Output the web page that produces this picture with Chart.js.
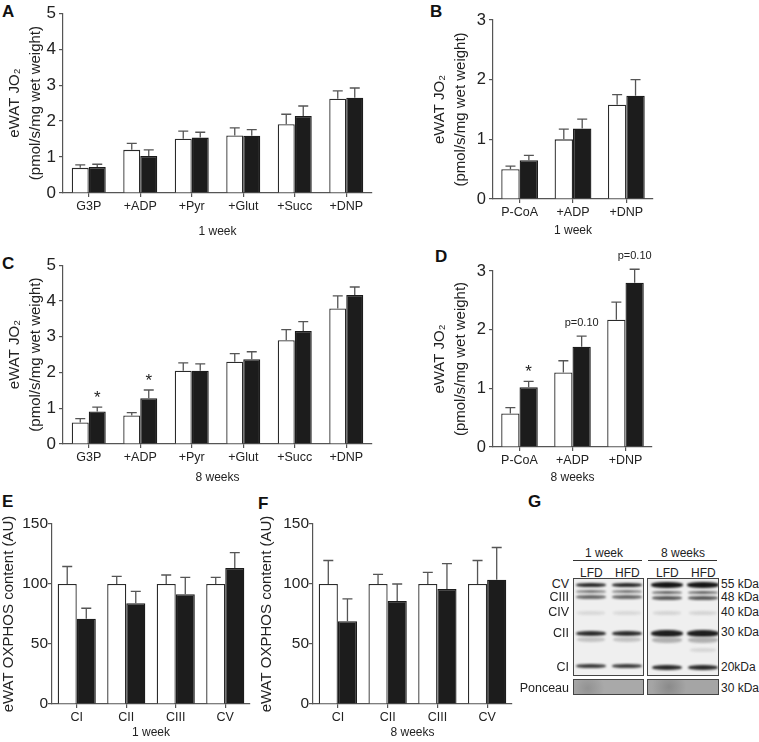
<!DOCTYPE html>
<html><head><meta charset="utf-8">
<script src="https://cdn.jsdelivr.net/npm/chart.js@4.4.1/dist/chart.umd.min.js"></script>
<style>
html,body{margin:0;padding:0;background:#fff;}
body{width:759px;height:742px;position:relative;overflow:hidden;font-family:'Liberation Sans',Arial,sans-serif;color:#222;}
.pn{position:absolute;}
.lt{position:absolute;font-weight:bold;font-size:17px;line-height:1;color:#111;}
.tx{position:absolute;font-size:12px;line-height:1;white-space:nowrap;}
.ul{position:absolute;height:1px;background:#333;}
.blot{position:absolute;border:1px solid #444;background:#efefef;overflow:hidden;box-sizing:border-box;}
.band{position:absolute;border-radius:45%;filter:blur(1px);}
</style>
</head><body>

<div class="lt" style="left:2px;top:3px">A</div>
<div class="lt" style="left:430px;top:3px">B</div>
<div class="lt" style="left:2px;top:255px">C</div>
<div class="lt" style="left:435px;top:248px">D</div>
<div class="lt" style="left:2px;top:493px">E</div>
<div class="lt" style="left:258px;top:495px">F</div>
<div class="lt" style="left:528px;top:493px">G</div>

<div class="pn" style="left:0;top:0;width:380px;height:245px"><canvas id="cA"></canvas></div>
<div class="pn" style="left:420px;top:0;width:250px;height:245px"><canvas id="cB"></canvas></div>
<div class="pn" style="left:0;top:252px;width:380px;height:238px"><canvas id="cC"></canvas></div>
<div class="pn" style="left:420px;top:250px;width:250px;height:240px"><canvas id="cD"></canvas></div>
<div class="pn" style="left:0;top:485px;width:255px;height:257px"><canvas id="cE"></canvas></div>
<div class="pn" style="left:255px;top:485px;width:262px;height:257px"><canvas id="cF"></canvas></div>

<!-- G: western blot -->
<div class="tx" style="left:585px;top:547px">1 week</div>
<div class="ul" style="left:573px;top:560px;width:69px"></div>
<div class="tx" style="left:661px;top:547px">8 weeks</div>
<div class="ul" style="left:648px;top:560px;width:69px"></div>
<div class="tx" style="left:580px;top:567px">LFD</div>
<div class="tx" style="left:615px;top:567px">HFD</div>
<div class="tx" style="left:656px;top:567px">LFD</div>
<div class="tx" style="left:691px;top:567px">HFD</div>
<div id="blot1" class="blot" style="left:573px;top:578px;width:71px;height:98px"></div>
<div id="blot2" class="blot" style="left:647px;top:578px;width:72px;height:98px"></div>
<div class="blot" style="left:573px;top:679px;width:71px;height:16px;background:radial-gradient(circle at 20% 60%,#929292 0,#a9a9a9 30%),#ababab"></div>
<div class="blot" style="left:647px;top:679px;width:72px;height:16px;background:radial-gradient(circle at 30% 50%,#8a8a8a 0,#a5a5a5 35%),#a8a8a8"></div>
<div id="gl"></div>

<script>
// ── データ ─────────────────────────────────────────
const catsAC=['G3P','+ADP','+Pyr','+Glut','+Succ','+DNP'];
const catsBD=['P-CoA','+ADP','+DNP'];
const catsEF=['CI','CII','CIII','CV'];

// A: 1 week
const aLfd=[0.70,1.20,1.51,1.60,1.91,2.62];
const aLfdErr=[0.08,0.18,0.21,0.21,0.28,0.22];
const aHfd=[0.72,1.03,1.54,1.59,2.14,2.65];
const aHfdErr=[0.08,0.17,0.15,0.17,0.28,0.27];
// C: 8 weeks
const cLfd=[0.60,0.80,2.05,2.30,2.90,3.79];
const cLfdErr=[0.11,0.08,0.22,0.23,0.30,0.35];
const cHfd=[0.91,1.28,2.05,2.37,3.16,4.17];
const cHfdErr=[0.12,0.23,0.19,0.21,0.26,0.22];
// B: 1 week
const bLfd=[0.50,1.00,1.58];
const bLfdErr=[0.05,0.17,0.17];
const bHfd=[0.65,1.18,1.73];
const bHfdErr=[0.08,0.16,0.27];
// D: 8 weeks
const dLfd=[0.57,1.27,2.17];
const dLfdErr=[0.10,0.20,0.30];
const dHfd=[1.02,1.71,2.80];
const dHfdErr=[0.10,0.18,0.23];
// E: OXPHOS 1 week
const eLfd=[100,100,100,100];
const eLfdErr=[14.6,6.4,7.5,5.5];
const eHfd=[71,84,91.4,113.3];
const eHfdErr=[8.8,9.9,14.1,12.9];
// F: OXPHOS 8 weeks
const fLfd=[100,100,100,100];
const fLfdErr=[19.6,8,9.7,19.6];
const fHfd=[69,85.9,95.9,103.6];
const fHfdErr=[18.6,14.1,21,26.8];
// 有意差表記 [dataset, index, text]
const cNotes=[[1,0,'*'],[1,1,'*']];
const dNotes=[[1,0,'*'],[1,1,'p=0.10'],[1,2,'p=0.10']];

const yTitleJO=['eWAT JO\u2082','(pmol/s/mg wet weight)'];
const yTitleOx='eWAT OXPHOS content (AU)';

Chart.defaults.font.family="'Liberation Sans', Arial, sans-serif";
Chart.defaults.color='#222';

// ── エラーバー & 注記 ─────────────────────────────
const errPlugin={id:'errbars',afterDatasetsDraw(chart,args,opts){
  const {ctx,scales:{y}}=chart;
  ctx.save();
  ctx.strokeStyle='#555';ctx.lineWidth=1.3;
  chart.data.datasets.forEach((ds,di)=>{
    chart.getDatasetMeta(di).data.forEach((bar,i)=>{
      const top=y.getPixelForValue(ds.data[i]+ds.err[i]);
      ctx.beginPath();
      ctx.moveTo(bar.x,bar.y);ctx.lineTo(bar.x,top);
      ctx.moveTo(bar.x-5,top);ctx.lineTo(bar.x+5,top);
      ctx.stroke();
    });
  });
  ctx.fillStyle='#222';ctx.textAlign='center';
  (opts.notes||[]).forEach(([di,i,t])=>{
    const ds=chart.data.datasets[di], bar=chart.getDatasetMeta(di).data[i];
    const top=y.getPixelForValue(ds.data[i]+ds.err[i]);
    if(t==='*'){ctx.font="17px 'Liberation Sans', Arial";ctx.textBaseline='alphabetic';ctx.fillText(t,bar.x,top-4);}
    else{ctx.font="11px 'Liberation Sans', Arial";ctx.textBaseline='middle';ctx.fillText(t,bar.x,top-13);}
  });
  ctx.restore();
}};

function mk(id,cats,lfd,lfdE,hfd,hfdE,o){
  const ax={color:'#555',width:1.2};
  const gr={display:true,drawOnChartArea:false,tickLength:4,color:'#555',lineWidth:1.2};
  return new Chart(document.getElementById(id),{
    type:'bar',
    data:{labels:cats,datasets:[
      {label:'LFD',data:lfd,err:lfdE,backgroundColor:'#fff',borderColor:'#2a2a2a',borderWidth:1.3,categoryPercentage:o.cp,barPercentage:1},
      {label:'HFD',data:hfd,err:hfdE,backgroundColor:'#1c1c1c',borderColor:'#1c1c1c',borderWidth:1.3,categoryPercentage:o.cp,barPercentage:1}]},
    options:{responsive:true,maintainAspectRatio:false,animation:false,devicePixelRatio:1,
      layout:{padding:{top:o.pt,right:o.pr,left:0,bottom:0}},
      plugins:{legend:{display:false},tooltip:{enabled:false},errbars:{notes:o.notes||[]}},
      scales:{
        x:{grid:Object.assign({offset:false},gr),border:ax,
          ticks:{font:{size:12.5},padding:2,maxRotation:0,autoSkip:false},
          title:{display:true,text:o.xt,font:{size:12},padding:{top:0,bottom:o.xtp}},
          afterFit:s=>{s.height=o.xh;}},
        y:{min:0,max:o.max,grid:gr,border:ax,
          ticks:{stepSize:o.step,font:{size:o.yfs},padding:o.ytk},
          title:{display:true,text:o.yt,font:{size:15,lineHeight:o.ylh},padding:{top:o.ytp,bottom:0}},
          afterFit:s=>{s.width=o.yw;}}
      }},
    plugins:[errPlugin]
  });
}

const charts={};
charts.A=mk('cA',catsAC,aLfd,aLfdErr,aHfd,aHfdErr,{cp:0.66,pt:13,pr:8,yw:63,xh:52,xt:'1 week',xtp:6,max:5,step:1,yfs:17,ytk:3,yt:yTitleJO,ylh:1.4,ytp:4.5});
charts.C=mk('cC',catsAC,cLfd,cLfdErr,cHfd,cHfdErr,{cp:0.66,pt:13,pr:8,yw:63,xh:46,xt:'8 weeks',xtp:5,max:5,step:1,yfs:17,ytk:3,yt:yTitleJO,ylh:1.4,ytp:4.5,notes:cNotes});
charts.B=mk('cB',catsBD,bLfd,bLfdErr,bHfd,bHfdErr,{cp:0.69,pt:20,pr:17,yw:73,xh:46,xt:'1 week',xtp:7,max:3,step:1,yfs:16.5,ytk:3,yt:yTitleJO,ylh:1.4,ytp:9.5});
charts.D=mk('cD',catsBD,dLfd,dLfdErr,dHfd,dHfdErr,{cp:0.69,pt:21,pr:18,yw:73,xh:43,xt:'8 weeks',xtp:5,max:3,step:1,yfs:16.5,ytk:3,yt:yTitleJO,ylh:1.4,ytp:9.5,notes:dNotes});
charts.E=mk('cE',catsEF,eLfd,eLfdErr,eHfd,eHfdErr,{cp:0.77,pt:39,pr:5,yw:52,xh:38,xt:'1 week',xtp:2,max:150,step:50,yfs:15.5,ytk:0,yt:yTitleOx,ylh:1.2,ytp:0});
charts.F=mk('cF',catsEF,fLfd,fLfdErr,fHfd,fHfdErr,{cp:0.77,pt:39,pr:5,yw:58,xh:38,xt:'8 weeks',xtp:2,max:150,step:50,yfs:15.5,ytk:0,yt:yTitleOx,ylh:1.2,ytp:3});

// ── G: ブロット（写真の再現）─────────────────────
function band(box,x,y,w,h,c){
  const d=document.createElement('div');d.className='band';
  d.style.cssText=`left:${x-w/2}px;top:${y-h/2}px;width:${w}px;height:${h}px;background:${c}`;
  box.appendChild(d);
}
const b1=document.getElementById('blot1'), b2=document.getElementById('blot2');
[17,53].forEach(x=>{
  band(b1,x,6,30,4,'#262626');band(b1,x,12,30,3,'#747474');band(b1,x,18,30,4,'#666');
  band(b1,x,34,28,4,'#d8d8d8');band(b1,x,54,30,5,'#2c2c2c');band(b1,x,60,28,5,'#c2c2c2');
  band(b1,x,87,30,4,'#3a3a3a');
});
[19,55].forEach((x,k)=>{
  band(b2,x,6,32,6,'#151515');band(b2,x,13,30,3,'#626262');band(b2,x,19,30,4,'#565656');
  band(b2,x,34,28,4,'#d4d4d4');band(b2,x,54,32,7,'#1e1e1e');band(b2,x,61,30,6,'#b0b0b0');
  if(k===1)band(b2,x,71,26,4,'#d6d6d6');
  band(b2,x,88,30,5,'#2a2a2a');
});
const gl=document.getElementById('gl');
const leftLbl=[['CV',584],['CIII',597],['CIV',612],['CII',633],['CI',667],['Ponceau',688]];
const rightLbl=[['55 kDa',584],['48 kDa',597],['40 kDa',612],['30 kDa',632],['20kDa',667],['30 kDa',688]];
leftLbl.forEach(([t,y])=>{const d=document.createElement('div');d.className='tx';d.textContent=t;d.style.cssText=`right:${759-569}px;top:${y-6}px;text-align:right;font-size:12.5px`;gl.appendChild(d);});
rightLbl.forEach(([t,y])=>{const d=document.createElement('div');d.className='tx';d.textContent=t;d.style.cssText=`left:721px;top:${y-6}px`;gl.appendChild(d);});
</script>
</body></html>
